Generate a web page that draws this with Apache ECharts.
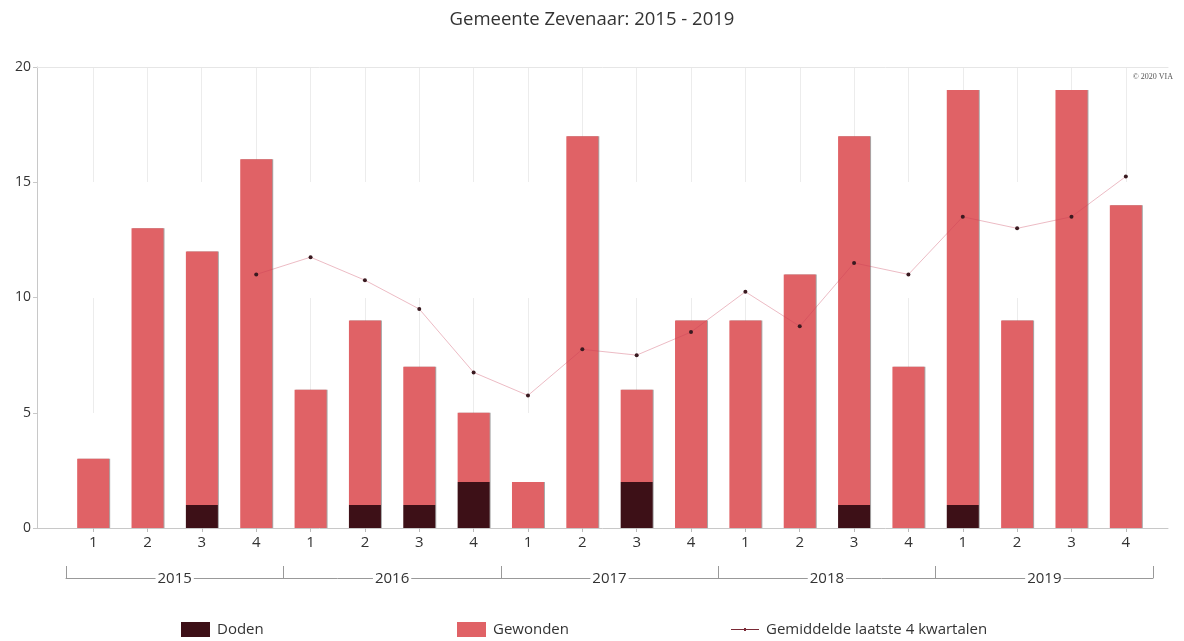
<!DOCTYPE html>
<html>
<head>
<meta charset="utf-8">
<script src="https://cdn.jsdelivr.net/npm/echarts@6/dist/echarts.min.js"></script>
<style>
html,body{margin:0;padding:0;background:#fff;}
#chart{width:1184px;height:641px;}
</style>
</head>
<body>
<div id="chart"></div>
<script>
const quarters = ['1','2','3','4','1','2','3','4','1','2','3','4','1','2','3','4','1','2','3','4'];
const years = ['2015','2016','2017','2018','2019'];
const doden = [0,0,1,0, 0,1,1,2, 0,0,2,0, 0,0,1,0, 1,0,0,0];
const gewonden = [3,13,11,16, 6,8,6,3, 2,17,4,9, 9,11,16,7, 18,9,19,14];
const gemiddelde = [null,null,null,11, 11.75,10.75,9.5,6.75, 5.75,7.75,7.5,8.5, 10.25,8.75,11.5,11, 13.5,13,13.5,15.25];
const yTicks = [0,5,10,15,20];

const FONT = 'Open Sans';
const chart = echarts.init(document.getElementById('chart'));
const splitGridAxis = (gi) => ({
  gridIndex: gi, type: 'category', data: quarters, boundaryGap: false,
  axisLine: {show: false}, axisTick: {show: false}, axisLabel: {show: false},
  splitLine: {show: true, interval: 0, lineStyle: {color: '#ececec', width: 1}}
});
const legendText = {fontSize: 15, color: '#333', fontFamily: FONT, padding: [0, 0, 0, 2]};
chart.setOption({
  animation: false,
  textStyle: {fontFamily: FONT},
  title: [
    {text: 'Gemeente Zevenaar: 2015 - 2019', left: 'center', top: 5,
     textStyle: {fontSize: 18.5, fontWeight: 'normal', color: '#333', fontFamily: FONT}},
    {text: '© 2020 VIA', right: 6, top: 68,
     textStyle: {fontSize: 8, fontWeight: 'normal', color: '#555', fontFamily: 'Liberation Serif'}}
  ],
  legend: [
    {data: [{name: 'Doden', icon: 'rect'}], left: 181, top: 622, padding: 0, itemWidth: 29, itemHeight: 15, textStyle: legendText},
    {data: [{name: 'Gewonden', icon: 'rect'}], left: 457, top: 622, padding: 0, itemWidth: 29, itemHeight: 15, textStyle: legendText},
    {data: [{name: 'Gemiddelde laatste 4 kwartalen',
             icon: 'path://M0,1 L28,1 L28,2 L0,2 Z M13,0 L15,0 L15,3 L13,3 Z'}],
     left: 731, top: 622, padding: 0, itemWidth: 28, itemHeight: 15, textStyle: legendText,
     itemStyle: {color: '#7a2a36'}}
  ],
  grid: [
    {left: 37, right: 16, top: 67, bottom: 113},
    {left: 66, right: 31, top: 67, bottom: 113},
    {left: 93, right: 58, top: 67, height: 115},
    {left: 93, right: 58, top: 298, height: 115}
  ],
  xAxis: [
    {gridIndex: 0, type: 'category', data: [''], position: 'bottom',
     axisLine: {show: true, lineStyle: {color: '#c8c8c8'}}, axisTick: {show: false}, axisLabel: {show: false}},
    {gridIndex: 0, type: 'category', data: [''], position: 'top',
     axisLine: {show: true, lineStyle: {color: '#e6e6e6'}}, axisTick: {show: false}, axisLabel: {show: false}},
    {gridIndex: 1, type: 'category', data: quarters, position: 'bottom',
     axisLine: {show: false},
     axisTick: {show: true, alignWithLabel: true, length: 4, lineStyle: {color: '#bbb'}},
     axisLabel: {interval: 0, margin: 7, fontSize: 15, color: '#333', fontFamily: FONT}},
    {gridIndex: 1, type: 'category', data: years, position: 'bottom', offset: 50,
     axisLine: {show: true, lineStyle: {color: '#999'}},
     axisTick: {show: true, inside: true, length: 12, interval: 0, lineStyle: {color: '#999'}},
     axisLabel: {interval: 0, margin: -7, fontSize: 15, color: '#333', fontFamily: FONT,
                 backgroundColor: '#fff', padding: [0, 2]}},
    splitGridAxis(2),
    splitGridAxis(3)
  ],
  yAxis: [
    {gridIndex: 0, type: 'value', min: 0, max: 20, interval: 5,
     axisLine: {show: true, lineStyle: {color: '#c8c8c8'}},
     axisTick: {show: true, length: 4, lineStyle: {color: '#c8c8c8'}},
     splitLine: {show: false},
     axisLabel: {margin: 6, fontSize: 14, color: '#333', fontFamily: FONT,
                 formatter: (v) => yTicks.includes(v) ? String(v) : ''}},
    {gridIndex: 1, type: 'value', min: 0, max: 20, show: false, splitLine: {show: false}},
    {gridIndex: 2, type: 'value', min: 0, max: 1, show: false, splitLine: {show: false}},
    {gridIndex: 3, type: 'value', min: 0, max: 1, show: false, splitLine: {show: false}}
  ],
  series: [
    {name: 'Doden', type: 'bar', stack: 'a', xAxisIndex: 2, yAxisIndex: 1, data: doden,
     barWidth: 32, z: 3,
     itemStyle: {color: '#3d1017', shadowColor: 'rgba(0,0,0,0.35)', shadowOffsetX: 1}},
    {name: 'Gewonden', type: 'bar', stack: 'a', xAxisIndex: 2, yAxisIndex: 1, data: gewonden,
     barWidth: 32, z: 3,
     itemStyle: {color: '#e06266', shadowColor: 'rgba(0,0,0,0.35)', shadowOffsetX: 1}},
    {name: 'Gemiddelde laatste 4 kwartalen', type: 'line', xAxisIndex: 2, yAxisIndex: 1,
     data: gemiddelde, z: 5, connectNulls: false,
     symbol: 'circle', symbolSize: 4, showSymbol: true,
     lineStyle: {color: 'rgba(200,60,85,0.35)', width: 1},
     itemStyle: {color: '#3a1a20', borderWidth: 0}}
  ]
});
</script>
</body>
</html>
